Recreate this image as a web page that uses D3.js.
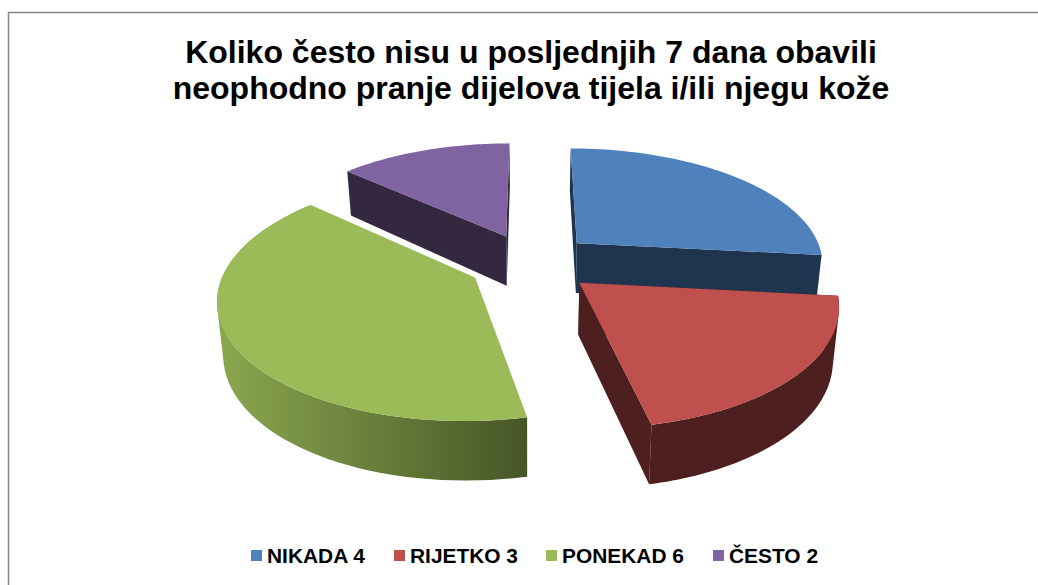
<!DOCTYPE html>
<html><head><meta charset="utf-8">
<script src="https://cdn.jsdelivr.net/npm/d3@7"></script>
<style>html,body{margin:0;padding:0;background:#fff}svg{display:block}</style>
</head><body><div id="c"></div>
<script>
const categories = ["NIKADA","RIJETKO","PONEKAD","ČESTO"];
const values = [4,3,6,2];
const topColors = ["#4f81bd","#c0504d","#9bbb59","#8064a2"];
const wallColors = ["#1f344e","#4d1f1f","#55662f","#33283f"];
const titleLines = ["Koliko često nisu u posljednjih 7 dana obavili","neophodno pranje dijelova tijela i/ili njegu kože"];
const legendX = [251,394,546,713];

const W=1038,H=585, cx=531, cy=262.5, rx=248, ry=115.5, p=0.1585, explode=0.255;
const svg=d3.select("#c").append("svg").attr("width",W).attr("height",H).attr("font-family","'Liberation Sans',Arial,sans-serif");
svg.append("rect").attr("x",8.5).attr("y",12.5).attr("width",W+20).attr("height",H+20).attr("fill","#fff").attr("stroke","#868686").attr("stroke-width",1.5);

const defs=svg.append("defs");
const g=defs.append("linearGradient").attr("id","gw").attr("gradientUnits","userSpaceOnUse").attr("x1",217).attr("x2",528).attr("y1",0).attr("y2",0);
g.append("stop").attr("offset",0).attr("stop-color","#8ba84f");
g.append("stop").attr("offset",1).attr("stop-color","#465527");

const pie=d3.pie().sort(null).value(d=>d);
const arcs=pie(values).map((d,i)=>({...d,i}));
const line=d3.line();

function proj(X,V,bottom){
  const k=1+p*V;
  let x=rx*X/k, y=-ry*V/k;
  if(bottom){ x*=0.98; y+=51-7.5*V; }
  return [cx+x,cy+y];
}
function pt(d,a,bottom,r=1){
  const m=(d.startAngle+d.endAngle)/2;
  return proj(explode*Math.sin(m)+r*Math.sin(a),explode*Math.cos(m)+r*Math.cos(a),bottom);
}
function rim(d,bottom){
  return d3.range(0,61).map(t=>pt(d,d.startAngle+(d.endAngle-d.startAngle)*t/60,bottom));
}
const apex=(d,b)=>pt(d,0,b,0);
const wallFill=d=>d.i===2?"url(#gw)":wallColors[d.i];

function draw(d){
  const gg=svg.append("g").attr("class","slice");
  const t=rim(d,false), b=rim(d,true);
  const wc=wallFill(d);
  // radial walls
  [[t[0],b[0]],[t[60],b[60]]].forEach(([tp,bp])=>{
    if(d.i===2) return;
    gg.append("path").attr("d",line([apex(d,false),tp,bp,apex(d,true)])+"Z").attr("fill",wc);
  });
  // outer rim: one path of ruled quads, only for the slices that face the viewer
  if(d.i===1||d.i===2){
    const quads=d3.range(0,60).map(j=>{
      const q=[t[j],t[j+1],b[j+1],b[j]];
      return line(d3.polygonArea(q)>0?q:q.slice().reverse())+"Z";
    }).join("");
    gg.append("path").attr("d",quads).attr("fill",wc).attr("fill-rule","nonzero");
  }
  // top
  gg.append("path").attr("d",line([apex(d,false),...t])+"Z").attr("fill",topColors[d.i]);
}
[3,0,2,1].forEach(i=>draw(arcs[i]));

svg.append("g").selectAll("text").data(titleLines).join("text")
  .attr("x",531).attr("y",(d,i)=>63+i*36).attr("text-anchor","middle")
  .attr("font-size",32).attr("font-weight","bold").attr("fill","#000").text(d=>d);

const leg=svg.append("g").selectAll("g").data(categories).join("g")
  .attr("transform",(d,i)=>`translate(${legendX[i]},0)`);
leg.append("rect").attr("x",0).attr("y",550).attr("width",11).attr("height",11).attr("fill",(d,i)=>topColors[i]);
leg.append("text").attr("x",16).attr("y",563).attr("font-size",20.9).attr("font-weight","bold").attr("fill","#000")
  .text((d,i)=>d+" "+values[i]);
</script></body></html>
